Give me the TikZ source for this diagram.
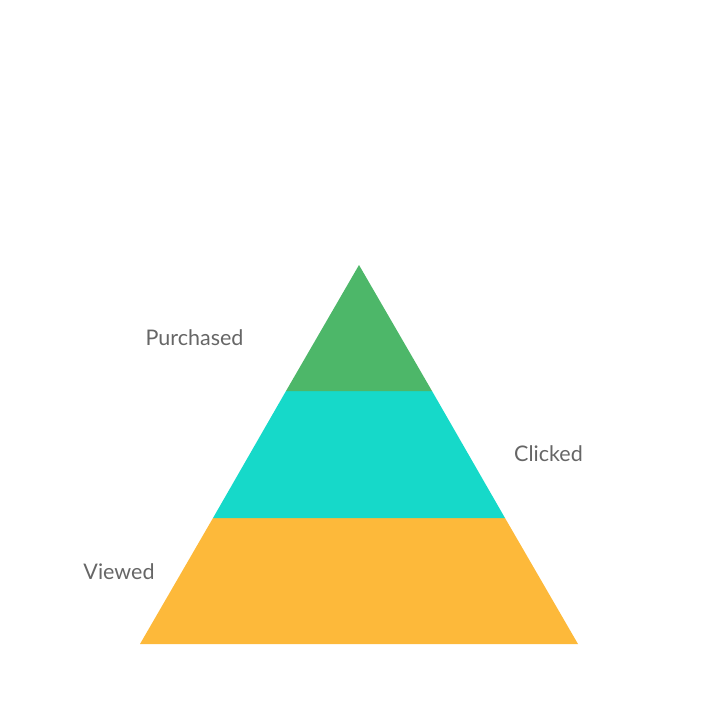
\documentclass[tikz,border=0pt]{standalone}
\usepackage{fontspec}
\setmainfont{Lato}
\definecolor{lvgreen}{HTML}{4DB769}
\definecolor{lvteal}{HTML}{16D9C9}
\definecolor{lvorange}{HTML}{FDB93A}
\definecolor{lvtext}{HTML}{666666}
\begin{document}
\begin{tikzpicture}[x=1pt,y=-1pt,
  lbl/.style={text=lvtext,font=\fontsize{21.5}{25}\selectfont,inner sep=0pt}]
\useasboundingbox (0,0) rectangle (720,720);
\coordinate (apex) at (359,265);
\coordinate (l1) at (286,391);
\coordinate (r1) at (432,391);
\coordinate (l2) at (213,518);
\coordinate (r2) at (505,518);
\coordinate (bl) at (140,644);
\coordinate (br) at (578,644);
\fill[lvorange] (l2) -- (r2) -- (br) -- (bl) -- cycle;
\fill[lvteal] (l1) -- (r1) -- (r2) -- (l2) -- cycle;
\fill[lvgreen] (apex) -- (r1) -- (l1) -- cycle;
\node[lbl] (purchased) at (194.5,338) {Purchased};
\node[lbl] (clicked) at (548.5,454) {Clicked};
\node[lbl] (viewed) at (119,572) {Viewed};
\end{tikzpicture}
\end{document}
